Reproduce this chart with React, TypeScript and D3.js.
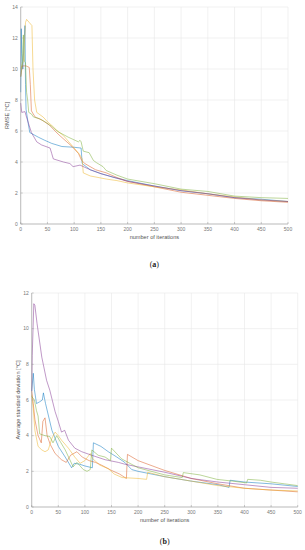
import * as d3 from 'd3'

type Pt = [number, number]

// iteration, value pairs
const xTicks = [0, 50, 100, 150, 200, 250, 300, 350, 400, 450, 500]
const rmseTicks = [0, 2, 4, 6, 8, 10, 12, 14]
const sdTicks = [0, 2, 4, 6, 8, 10, 12]

const rmseBlue: Pt[] = [[0, 8.5], [1, 12.6], [2, 11.0], [4, 10.0], [6, 11.5], [8, 12.8], [9, 9.0], [10, 7.4], [14, 6.5], [17, 5.9], [25, 5.75], [33, 5.6], [45, 5.4], [58, 5.2], [77, 5.0], [100, 4.95], [113, 4.9], [115, 3.9], [130, 3.5], [150, 3.25], [175, 3.0], [200, 2.8], [250, 2.45], [300, 2.15], [350, 1.95], [400, 1.7], [450, 1.6], [500, 1.45]]
const rmseRed: Pt[] = [[0, 9.5], [3, 10.2], [10, 10.2], [16, 10.1], [18, 9.0], [20, 7.3], [27, 6.9], [40, 6.7], [53, 6.4], [70, 5.8], [83, 5.4], [96, 5.0], [108, 4.55], [114, 4.1], [120, 3.9], [140, 3.5], [160, 3.3], [180, 3.0], [200, 2.75], [250, 2.4], [300, 2.05], [350, 1.85], [400, 1.65], [450, 1.5], [500, 1.4]]
const rmseYellow: Pt[] = [[0, 10.0], [5, 10.5], [9, 13.0], [11, 13.2], [16, 13.0], [21, 12.8], [23, 10.0], [26, 8.0], [30, 7.2], [42, 6.9], [50, 6.6], [60, 6.3], [67, 6.06], [80, 5.7], [90, 5.3], [100, 4.9], [110, 4.5], [115, 4.2], [117, 3.3], [130, 3.1], [160, 2.9], [180, 2.8], [200, 2.65], [250, 2.4], [300, 2.2], [350, 1.95], [400, 1.75], [450, 1.55], [500, 1.45]]
const rmsePurple: Pt[] = [[0, 7.8], [2, 7.2], [8, 7.25], [10, 7.0], [20, 5.9], [30, 5.3], [39, 5.1], [55, 4.9], [58, 4.55], [61, 4.2], [80, 4.0], [92, 3.9], [98, 3.7], [111, 3.8], [130, 3.5], [150, 3.25], [180, 2.95], [200, 2.75], [250, 2.45], [300, 2.15], [350, 1.95], [400, 1.7], [450, 1.55], [500, 1.45]]
const rmseGreen: Pt[] = [[0, 9.5], [3, 10.5], [5, 12.2], [7, 10.5], [9, 10.4], [11, 8.5], [13, 8.0], [15, 7.2], [20, 7.1], [24, 6.9], [35, 6.8], [45, 6.6], [58, 6.3], [70, 5.95], [89, 5.6], [108, 5.3], [111, 5.4], [113, 5.3], [117, 4.7], [128, 4.6], [136, 4.1], [142, 3.95], [154, 3.7], [160, 3.45], [180, 3.15], [200, 2.9], [250, 2.6], [300, 2.25], [350, 2.1], [400, 1.8], [450, 1.7], [500, 1.65]]

const sdBlue: Pt[] = [[0, 6.5], [3, 7.5], [5, 6.6], [9, 5.8], [15, 5.9], [20, 6.0], [22, 6.4], [26, 5.8], [38, 4.3], [50, 3.4], [63, 2.8], [75, 2.2], [80, 2.45], [90, 2.4], [100, 2.3], [114, 2.2], [116, 3.6], [130, 3.4], [144, 3.1], [160, 2.8], [175, 2.5], [188, 2.1], [200, 2.0], [250, 1.7], [300, 1.45], [350, 1.25], [371, 1.1], [373, 1.5], [400, 1.4], [450, 1.3], [500, 1.15]]
const sdRed: Pt[] = [[0, 6.5], [3, 5.8], [6, 4.9], [12, 4.0], [18, 3.6], [21, 4.8], [25, 5.0], [29, 4.0], [35, 3.5], [44, 3.0], [56, 2.65], [65, 2.5], [73, 2.9], [85, 3.1], [95, 2.8], [108, 2.6], [120, 2.5], [131, 2.35], [150, 2.05], [165, 1.85], [178, 1.6], [180, 2.95], [200, 2.6], [250, 2.05], [300, 1.6], [350, 1.3], [400, 1.05], [450, 0.95], [500, 0.85]]
const sdYellow: Pt[] = [[0, 6.3], [3, 5.5], [6, 4.3], [12, 3.4], [19, 3.2], [25, 3.1], [31, 3.2], [38, 3.85], [44, 4.2], [50, 4.0], [56, 3.75], [69, 3.3], [81, 2.8], [91, 2.45], [100, 2.6], [110, 3.0], [115, 2.7], [128, 2.35], [144, 2.15], [155, 1.85], [170, 1.65], [200, 1.6], [216, 1.55], [218, 1.95], [250, 1.7], [300, 1.45], [350, 1.2], [400, 1.05], [450, 0.95], [500, 0.9]]
const sdPurple: Pt[] = [[0, 6.5], [1, 8.5], [4, 11.4], [6, 11.3], [10, 10.3], [19, 8.4], [28, 7.1], [34, 6.55], [44, 5.35], [50, 4.8], [56, 4.2], [62, 4.3], [69, 3.75], [81, 3.3], [94, 3.1], [113, 2.9], [138, 2.65], [163, 2.5], [175, 2.4], [200, 2.25], [250, 1.95], [300, 1.6], [350, 1.4], [400, 1.25], [450, 1.1], [500, 1.05]]
const sdGreen: Pt[] = [[0, 6.2], [5, 6.0], [9, 5.4], [12, 5.1], [15, 4.1], [25, 4.0], [34, 3.95], [40, 3.6], [47, 4.0], [55, 3.6], [63, 3.2], [78, 2.25], [85, 2.5], [97, 2.1], [104, 2.0], [110, 2.1], [113, 3.2], [125, 2.9], [138, 2.8], [148, 2.6], [150, 3.3], [169, 2.7], [200, 2.2], [250, 1.8], [283, 1.65], [285, 1.93], [316, 1.8], [348, 1.55], [378, 1.45], [404, 1.35], [406, 1.55], [430, 1.5], [450, 1.4], [475, 1.3], [500, 1.2]]

const colors = ['#0072BD', '#D95319', '#EDB120', '#7E2F8E', '#77AC30']

const rmseSeries = [rmseBlue, rmseRed, rmseYellow, rmsePurple, rmseGreen]
const sdSeries = [sdBlue, sdRed, sdYellow, sdPurple, sdGreen]

interface PanelProps {
    left: number
    right: number
    top: number
    bottom: number
    yMax: number
    yTicks: number[]
    series: Pt[][]
    yLabel: string
    yLabelX: number
    caption: string
    captionY: number
}

const Panel = ({ left, right, top, bottom, yMax, yTicks, series, yLabel, yLabelX, caption, captionY }: PanelProps) => {
    const x = d3.scaleLinear().domain([0, 500]).range([left, right])
    const y = d3.scaleLinear().domain([0, yMax]).range([bottom, top])
    const line = d3.line<Pt>().x(d => x(d[0])).y(d => y(d[1]))
    const font = 'Liberation Sans, Arial, sans-serif'
    return (
        <g>
            {xTicks.map(t => (
                <line key={'gx' + t} x1={x(t)} x2={x(t)} y1={top} y2={bottom} stroke="#e8e8e8" strokeWidth={0.6} />
            ))}
            {yTicks.map(t => (
                <line key={'gy' + t} x1={left} x2={right} y1={y(t)} y2={y(t)} stroke="#e8e8e8" strokeWidth={0.6} />
            ))}
            {series.map((s, i) => (
                <path key={i} d={line(s) || ''} fill="none" stroke={colors[i]} strokeWidth={0.8} strokeOpacity={0.62} />
            ))}
            <line x1={left} x2={right} y1={bottom} y2={bottom} stroke="#9a9a9a" strokeWidth={0.6} />
            <line x1={left} x2={left} y1={top} y2={bottom} stroke="#9a9a9a" strokeWidth={0.6} />
            {xTicks.map(t => (
                <g key={'tx' + t}>
                    <line x1={x(t)} x2={x(t)} y1={bottom} y2={bottom - 2} stroke="#9a9a9a" strokeWidth={0.5} />
                    <text x={x(t)} y={bottom + 7} fontSize={5} fill="#777" textAnchor="middle" fontFamily={font}>{t}</text>
                </g>
            ))}
            {yTicks.map(t => (
                <g key={'ty' + t}>
                    <line x1={left} x2={left + 2} y1={y(t)} y2={y(t)} stroke="#9a9a9a" strokeWidth={0.5} />
                    <text x={left - 3} y={y(t) + 1.8} fontSize={5} fill="#777" textAnchor="end" fontFamily={font}>{t}</text>
                </g>
            ))}
            <text x={(left + right) / 2} y={bottom + 15} fontSize={5.6} fill="#555" textAnchor="middle" fontFamily={font}>number of iterations</text>
            <text transform={`translate(${yLabelX},${(top + bottom) / 2}) rotate(-90)`} fontSize={5.6} fill="#555" textAnchor="middle" fontFamily={font}>{yLabel}</text>
            <text x={(left + right) / 2} y={captionY} fontSize={8} fill="#222" textAnchor="middle" fontFamily="Liberation Serif, serif">
                (<tspan fontWeight="bold">{caption}</tspan>)
            </text>
        </g>
    )
}

const App = () => {
    return (
        <svg width={305} height={550} style={{ position: 'absolute', left: 0, top: 0, background: '#fff' }}>
            <Panel left={20.7} right={288} top={7} bottom={224} yMax={14} yTicks={rmseTicks} series={rmseSeries}
                yLabel="RMSE [°C]" yLabelX={9} caption="a" captionY={267} />
            <Panel left={31.7} right={297.7} top={293} bottom={507} yMax={12} yTicks={sdTicks} series={sdSeries}
                yLabel="Average standard deviation [°C]" yLabelX={20} caption="b" captionY={544} />
        </svg>
    )
}

export default App
